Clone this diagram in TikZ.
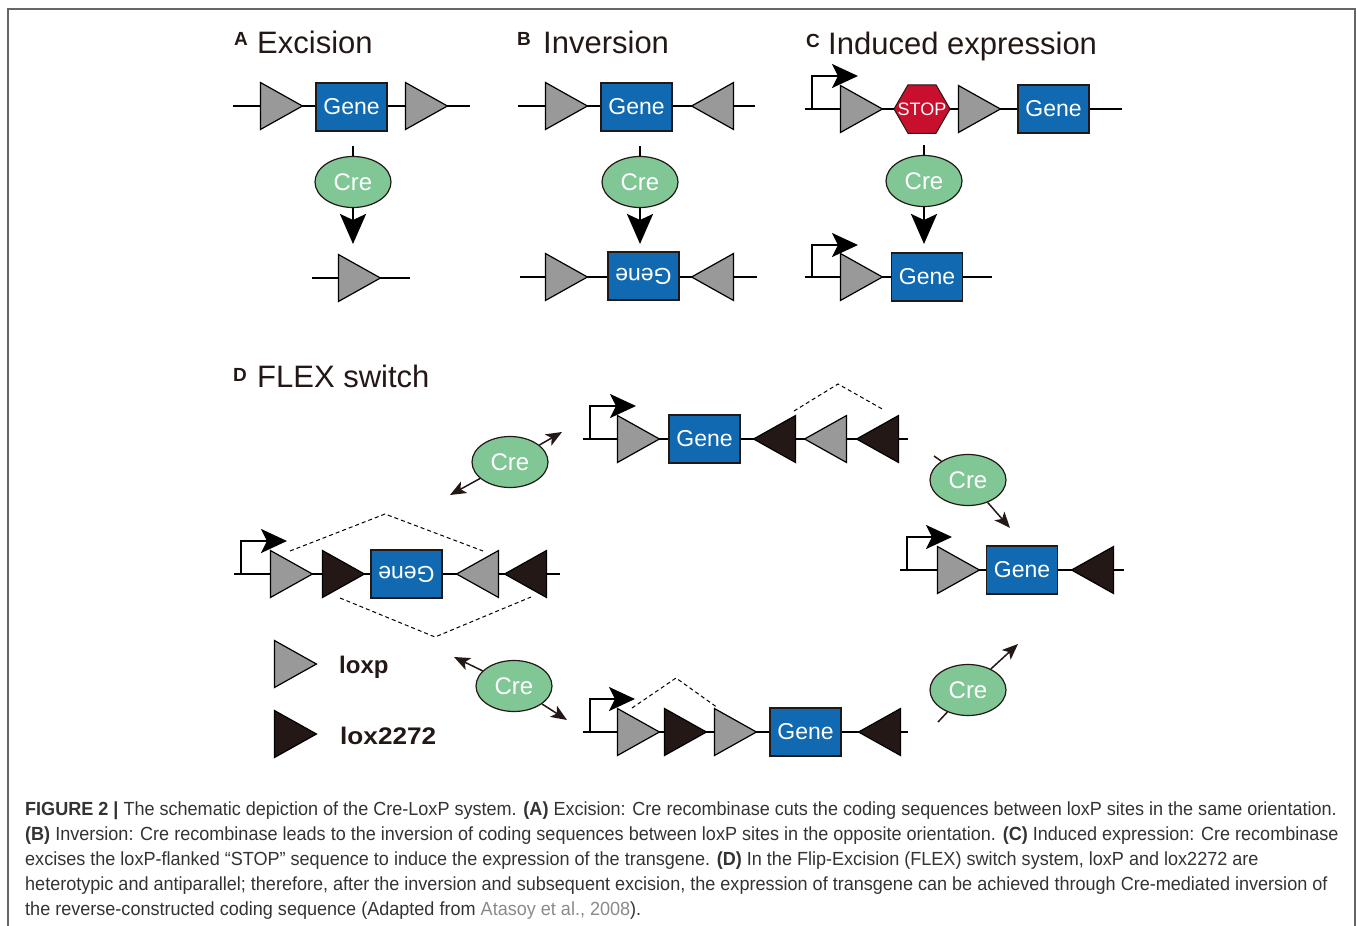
\documentclass[tikz,border=0pt]{standalone}
\usepackage{fontspec}
\setmainfont{Liberation Sans}
\setsansfont{Liberation Sans}
\newfontfamily\capfont[FakeStretch=0.95]{Liberation Sans}
\usepackage{xcolor}
\usetikzlibrary{positioning,shapes.geometric,arrows.meta}
\definecolor{geneblue}{HTML}{1069B1}
\definecolor{cregreen}{HTML}{80C795}
\definecolor{loxgray}{HTML}{999999}
\definecolor{ink}{HTML}{231815}
\definecolor{stopred}{HTML}{C8102E}
\definecolor{captext}{HTML}{333333}
\definecolor{refgray}{HTML}{8A8A8A}
\definecolor{framegray}{HTML}{666666}
\newcommand{\fsz}[1]{\fontsize{#1}{#1}\selectfont}
\tikzset{
  dna/.style     = {draw=black, line width=2.6pt},
  gene/.style    = {draw=ink, fill=geneblue, line width=1.2pt, minimum width=71pt,
                    minimum height=48pt, inner sep=0pt, text=white, font=\fsz{23}},
  cre/.style     = {ellipse, draw=ink, fill=cregreen, line width=1.2pt, minimum width=76pt,
                    minimum height=51pt, inner sep=0pt, text=white, font=\fsz{24}},
  stopsign/.style= {regular polygon, regular polygon sides=6, draw=ink, fill=stopred,
                    line width=1pt, minimum size=56pt, inner sep=0pt, text=white, font=\fsz{18}},
  loxp/.style    = {isosceles triangle, isosceles triangle stretches, draw=black,
                    fill=loxgray, line width=1.2pt, minimum width=47pt, minimum height=42pt,
                    inner sep=0pt, anchor=apex},
  lox2272/.style = {loxp, fill=ink},
  rev/.style     = {shape border rotate=180},
  prom/.style    = {line width=2.6pt, -{Stealth[length=26pt,width=24pt,inset=6pt]}},
  crearr/.style  = {line width=2.6pt, -{Stealth[length=30pt,width=26pt,inset=6pt]}},
  flexarr/.style = {line width=1.5pt, draw=ink, -{Stealth[length=16pt,width=13pt,inset=4pt]}},
  stub/.style    = {line width=1.5pt, draw=ink},
  tick/.style    = {line width=2.2pt},
  cut/.style     = {dashed, line width=1pt, dash pattern=on 4pt off 3pt},
  title/.style   = {anchor=base west, inner sep=0pt, text=ink, font=\fsz{31}},
  letter/.style  = {anchor=base west, inner sep=0pt, text=ink, font=\bfseries\fsz{19}},
  key/.style     = {anchor=base west, inner sep=0pt, text=ink, font=\bfseries\fsz{24}},
  capline/.style = {anchor=base west, inner sep=0pt, text=captext, font=\capfont\fsz{19}},
}

\begin{document}
\begin{tikzpicture}[x=1pt, y=-1pt]
\useasboundingbox (0,0) rectangle (1357,926);

% ---- frame --------------------------------------------------------------
\draw[framegray, line width=1.5pt] (8,926) -- (8,9) -- (1355,9) -- (1355,926);

% ---- panel A: excision (y = 106) ----------------------------------------
\node[letter] (lA) at (234,45) {A};
\node[title] (tA) at (257,53) {Excision};
\coordinate (aL) at (233,106); \coordinate (aR) at (470,106);
\draw[dna] (aL) -- (aR);
\node[loxp] (a1) at (304,106) {};
\node[gene] (ga) at (351.5,107) {Gene};
\node[loxp] (a2) at (449,106) {};
\node[cre] (ca) at (353,182) {Cre};
\draw[tick] (ca.north) -- ++(0,-10);
\coordinate (aT) at (353,244);
\draw[crearr] (ca.south) -- (aT);
\coordinate (aL2) at (312,278); \coordinate (aR2) at (410,278);
\draw[dna] (aL2) -- (aR2);
\node[loxp] (a3) at (382,278) {};

% ---- panel B: inversion -------------------------------------------------
\node[letter] (lB) at (517,45) {B};
\node[title] (tB) at (543,53) {Inversion};
\coordinate (bL) at (518,106); \coordinate (bR) at (755,106);
\draw[dna] (bL) -- (bR);
\node[loxp] (b1) at (589,106) {};
\node[gene] (gb) at (636.5,107) {Gene};
\node[loxp, rev] (b2) at (690,106) {};
\node[cre] (cb) at (640,182) {Cre};
\draw[tick] (cb.north) -- ++(0,-10);
\coordinate (bT) at (640,244);
\draw[crearr] (cb.south) -- (bT);
\coordinate (bL2) at (520,277); \coordinate (bR2) at (757,277);
\draw[dna] (bL2) -- (bR2);
\node[loxp] (b3) at (589,277) {};
\node[gene, rotate=180] (gb2) at (643.5,276) {Gene};
\node[loxp, rev] (b4) at (690,277) {};

% ---- panel C: induced expression ----------------------------------------
\node[letter] (lC) at (806,47) {C};
\node[title] (tC) at (828,54) {Induced expression};
\coordinate (cL) at (805,109); \coordinate (cR) at (1122,109);
\draw[dna] (cL) -- (cR);
\coordinate (cP) at (812,109); \coordinate (cPt) at (858,76);
\draw[prom] (cP) |- (cPt);
\node[loxp] (c1) at (884,109) {};
\node[stopsign] (stop) at (922,109) {\makebox[0pt]{STOP}};
\node[loxp] (c2) at (1002,109) {};
\node[gene] (gc) at (1053.5,109) {Gene};
\node[cre] (cc) at (924,181) {Cre};
\draw[tick] (cc.north) -- ++(0,-10);
\coordinate (cT) at (924,244);
\draw[crearr] (cc.south) -- (cT);
\coordinate (cL2) at (805,277); \coordinate (cR2) at (992,277);
\draw[dna] (cL2) -- (cR2);
\coordinate (cP2) at (812,277); \coordinate (cPt2) at (858,245);
\draw[prom] (cP2) |- (cPt2);
\node[loxp] (c3) at (884,277) {};
\node[gene] (gc2) at (927,277) {Gene};

% ---- panel D: FLEX switch -----------------------------------------------
\node[letter] (lD) at (233,381) {D};
\node[title] (tD) at (257,387) {FLEX switch};

% starting construct, gene reversed
\coordinate (dL) at (234,574); \coordinate (dR) at (560,574);
\draw[dna] (dL) -- (dR);
\coordinate (dP) at (241,574); \coordinate (dPt) at (287,541);
\draw[prom] (dP) |- (dPt);
\node[loxp] (d1) at (314,574) {};
\node[lox2272] (d2) at (366,574) {};
\node[gene, rotate=180] (gd) at (406.5,574) {Gene};
\node[loxp, rev] (d3) at (455,574) {};
\node[lox2272, rev] (d4) at (503,574) {};
\draw[cut] (290,551) -- (385,514) -- (483,551);
\draw[cut] (340,598) -- (435,637) -- (531,597);

% upper route
\node[cre] (cu) at (510,462) {Cre};
\coordinate (cuA) at (450,495); \coordinate (cuB) at (562,432);
\draw[flexarr] (cu) -- (cuA);
\draw[flexarr] (cu) -- (cuB);

\coordinate (uL) at (583,439); \coordinate (uR) at (908,439);
\draw[dna] (uL) -- (uR);
\coordinate (uP) at (590,439); \coordinate (uPt) at (636,406);
\draw[prom] (uP) |- (uPt);
\node[loxp] (u1) at (661,439) {};
\node[gene] (gu) at (704.5,439) {Gene};
\node[lox2272, rev] (u2) at (752,439) {};
\node[loxp, rev] (u3) at (803,439) {};
\node[lox2272, rev] (u4) at (855,439) {};
\draw[cut] (794,411) -- (838,384) -- (884,410);

\node[cre] (cr1) at (968,480) {Cre};
\coordinate (cr1A) at (934,456); \coordinate (cr1B) at (1010,528);
\draw[stub] (cr1A) -- (cr1);
\draw[flexarr] (cr1) -- (cr1B);

% lower route
\node[cre] (cl) at (514,686) {Cre};
\coordinate (clA) at (454,657); \coordinate (clB) at (567,720);
\draw[flexarr] (cl) -- (clA);
\draw[flexarr] (cl) -- (clB);

\coordinate (wL) at (583,732); \coordinate (wR) at (908,732);
\draw[dna] (wL) -- (wR);
\coordinate (wP) at (590,732); \coordinate (wPt) at (635,699);
\draw[prom] (wP) |- (wPt);
\node[loxp] (w1) at (661,732) {};
\node[lox2272] (w2) at (708,732) {};
\node[loxp] (w3) at (758,732) {};
\node[gene] (gw) at (805.5,732) {Gene};
\node[lox2272, rev] (w4) at (857,732) {};
\draw[cut] (632,708) -- (676,678) -- (718,708);

\node[cre] (cr2) at (968,690) {Cre};
\coordinate (cr2A) at (938,722); \coordinate (cr2B) at (1018,644);
\draw[stub] (cr2A) -- (cr2);
\draw[flexarr] (cr2) -- (cr2B);

% final construct
\coordinate (fL) at (900,570); \coordinate (fR) at (1124,570);
\draw[dna] (fL) -- (fR);
\coordinate (fP) at (907,570); \coordinate (fPt) at (952,537);
\draw[prom] (fP) |- (fPt);
\node[loxp] (f1) at (981,570) {};
\node[gene] (gf) at (1022,570) {Gene};
\node[lox2272, rev] (f2) at (1070,570) {};

% ---- key ----------------------------------------------------------------
\node[loxp] (k1) at (318,664) {};
\node[key] (k1t) at (339,673) {loxp};
\node[lox2272] (k2) at (318,734) {};
\node[key, xscale=1.09] (k2t) at (340,744) {lox2272};

% ---- caption ------------------------------------------------------------
\node[capline] (cap1) at (25,815) {\textbf{FIGURE 2 |} The schematic depiction of the Cre-LoxP system. \textbf{(A)} Excision: Cre recombinase cuts the coding sequences between loxP sites in the same orientation.};
\node[capline] (cap2) at (25,840) {\textbf{(B)} Inversion: Cre recombinase leads to the inversion of coding sequences between loxP sites in the opposite orientation. \textbf{(C)} Induced expression: Cre recombinase};
\node[capline] (cap3) at (25,865.5) {excises the loxP-flanked “STOP” sequence to induce the expression of the transgene. \textbf{(D)} In the Flip-Excision (FLEX) switch system, loxP and lox2272 are};
\node[capline] (cap4) at (25,890.5) {heterotypic and antiparallel; therefore, after the inversion and subsequent excision, the expression of transgene can be achieved through Cre-mediated inversion of};
\node[capline] (cap5) at (25,915.5) {the reverse-constructed coding sequence (Adapted from \textcolor{refgray}{Atasoy et al., 2008}).};

\end{tikzpicture}
\end{document}
